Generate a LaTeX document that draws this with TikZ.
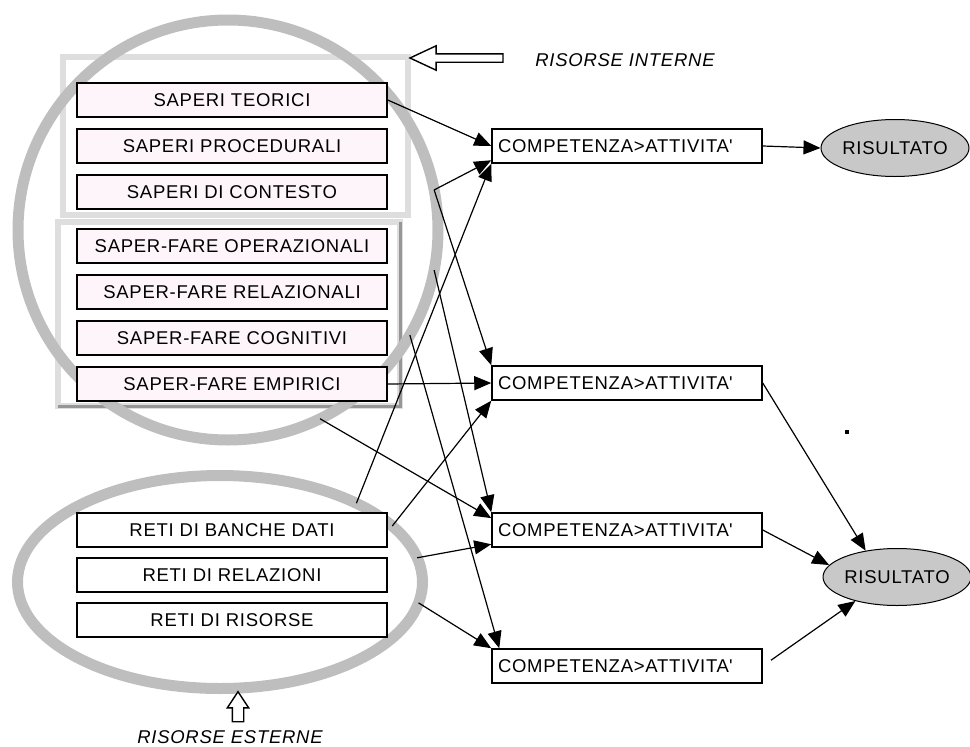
\documentclass[tikz,border=0pt]{standalone}
\usepackage{fontspec}
\setmainfont[LetterSpace=4]{Liberation Sans}
\usetikzlibrary{positioning,shapes.geometric,shapes.arrows,arrows.meta}

\definecolor{rosino}{RGB}{253,245,250}
\definecolor{grigiogruppo}{RGB}{190,190,190}
\definecolor{grigiopannello}{RGB}{222,222,222}
\definecolor{grigioombra}{RGB}{150,150,150}
\definecolor{grigioesito}{RGB}{200,200,200}
\newcommand{\testobox}{\fontsize{18.5}{20}\selectfont}

\begin{document}
\begin{tikzpicture}[
            x=1pt, y=-1pt,
            every node/.style={font=\testobox},
            risorsa/.style={draw, line width=1.5pt, fill=rosino, minimum width=310pt, minimum height=34pt, inner sep=0pt},
            rete/.style={risorsa, fill=white},
            compet/.style={draw, line width=1.5pt, fill=white, text width=258pt, align=left, inner xsep=6pt, inner ysep=0pt, minimum height=34pt},
            esito/.style={draw, ellipse, line width=1pt, fill=grigioesito, minimum width=148pt, minimum height=57pt, inner sep=0pt},
            gruppo/.style={draw=grigiogruppo, line width=11pt, outer sep=0pt, inner sep=0pt},
            pannello/.style={draw=grigiopannello, line width=6pt},
            freccia/.style={line width=1.2pt, -{Triangle[length=17pt,width=14pt]}},
            vuota/.style={single arrow, draw, line width=1.4pt, fill=white, inner sep=3.5pt, single arrow head extend=8pt, single arrow tip angle=50}
            ]
        \useasboundingbox (0,0) rectangle (970,747);
        \draw[pannello] (63,57) rectangle (408,215);
        \draw[pannello] (58,222) rectangle (400,406);
        \draw[line width=3pt, grigioombra] (58,406) -- (400,406) -- (400,222);
        \node[gruppo, circle, minimum size=420pt] (interne) at (228,230) {};
        \node[gruppo, ellipse, minimum width=405pt, minimum height=213pt] (esterne) at (220,582) {};

        \node[risorsa] (teorici) at (232,100) {SAPERI TEORICI};
        \node[risorsa, below=10.5pt of teorici] (procedurali) {SAPERI PROCEDURALI};
        \node[risorsa, below=10.5pt of procedurali] (contesto) {SAPERI DI CONTESTO};
        \node[risorsa, below=18.5pt of contesto] (operazionali) {SAPER-FARE OPERAZIONALI};
        \node[risorsa, below=10.5pt of operazionali] (relazionali) {SAPER-FARE RELAZIONALI};
        \node[risorsa, below=10.5pt of relazionali] (cognitivi) {SAPER-FARE COGNITIVI};
        \node[risorsa, below=10.5pt of cognitivi] (empirici) {SAPER-FARE EMPIRICI};

        \node[rete] (banche) at (232,530) {RETI DI BANCHE DATI};
        \node[rete, below=9.5pt of banche] (relazioni) {RETI DI RELAZIONI};
        \node[rete, below=9.5pt of relazioni] (risorse) {RETI DI RISORSE};

        \node[vuota, shape border rotate=180, minimum height=93pt] (puntaint) at (461,58) {};
        \node (etint) at (625,60) {\itshape RISORSE INTERNE};
        \node[vuota, shape border rotate=90, minimum height=30pt, inner sep=5pt, single arrow head extend=5pt, single arrow tip angle=67] (puntaest) at (238,711) {};
        \node (etest) at (230,737) {\itshape RISORSE ESTERNE};

        \node[compet] (att1) at (627,146) {COMPETENZA>ATTIVITA\textquotesingle};
        \node[compet] (att2) at (627,383) {COMPETENZA>ATTIVITA\textquotesingle};
        \node[compet] (att3) at (627,530) {COMPETENZA>ATTIVITA\textquotesingle};
        \node[compet] (att4) at (627,666) {COMPETENZA>ATTIVITA\textquotesingle};

        \node[esito] (ris1) at (895,148) {\makebox[90pt]{RISULTATO}};
        \node[esito] (ris2) at (897,577) {\makebox[90pt]{RISULTATO}};

        \draw[freccia] (teorici.east) -- (att1.west);
        \draw[freccia] (interne.11) -- (att1.186);
        \draw[freccia] (esterne.30) -- (att1.south west);
        \draw[freccia] (interne.11) -- (att2.north west);
        \draw[freccia] (empirici.east) -- (att2.west);
        \draw[freccia] (esterne.18) -- (att2.south west);
        \draw[freccia] (interne.-64) -- (att3.175);
        \draw[freccia] (interne.-11) -- (att3.north west);
        \draw[freccia] (esterne.7) -- (att3.186);
        \draw[freccia] (interne.-30) -- ([xshift=8pt]att4.north west);
        \draw[freccia] (esterne.-6) -- (att4.north west);

        \draw[freccia] (att1.east) -- (ris1.west);
        \draw[freccia] (att2.east) -- (ris2.140);
        \draw[freccia] (att3.east) -- (ris2.170);
        \draw[freccia, shorten <=10pt] (att4.east) -- (ris2.210);

        \fill (845,430) rectangle +(4,4);
        \end{tikzpicture}
\end{document}
